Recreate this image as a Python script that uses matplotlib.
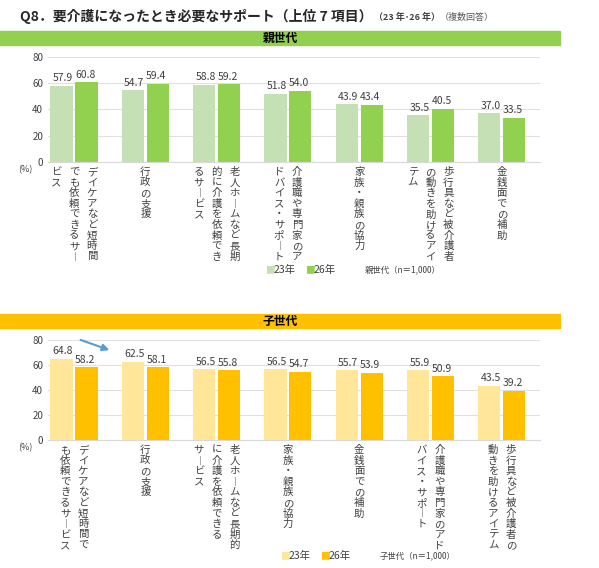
import matplotlib
matplotlib.use("Agg")
import matplotlib.pyplot as plt
from matplotlib.transforms import blended_transform_factory
import numpy as np

plt.rcParams['font.family'] = ['Noto Sans CJK JP', 'DejaVu Sans']

W, H = 599, 568

# 親世代
parent_cols = [
    ["デイケアなど短時間", "でも依頼できるサー", "ビス"],
    ["行政の支援"],
    ["老人ホームなど長期", "的に介護を依頼でき", "るサービス"],
    ["介護職や専門家のア", "ドバイス・サポート"],
    ["家族・親族の協力"],
    ["歩行具など被介護者", "の動きを助けるアイ", "テム"],
    ["金銭面での補助"],
]
parent_23 = [57.9, 54.7, 58.8, 51.8, 43.9, 35.5, 37.0]
parent_26 = [60.8, 59.4, 59.2, 54.0, 43.4, 40.5, 33.5]

# 子世代
child_cols = [
    ["デイケアなど短時間で", "も依頼できるサービス"],
    ["行政の支援"],
    ["老人ホームなど長期的", "に介護を依頼できる", "サービス"],
    ["家族・親族の協力"],
    ["金銭面での補助"],
    ["介護職や専門家のアド", "バイス・サポート"],
    ["歩行具など被介護者の", "動きを助けるアイテム"],
]
child_23 = [64.8, 62.5, 56.5, 56.5, 55.7, 55.9, 43.5]
child_26 = [58.2, 58.1, 55.8, 54.7, 53.9, 50.9, 39.2]

fig = plt.figure(figsize=(W / 100, H / 100), dpi=100)


def px_axes(x0, y0, x1, y1):
    return fig.add_axes([x0 / W, 1 - y1 / H, (x1 - x0) / W, (y1 - y0) / H])


def vtext(s):
    return "\n".join("︱" if c == "ー" else c for c in s)


def panel(y_top, y_bot, cols, v23, v26, c23, c26, leg_y, leg_x, leg_label):
    ax = px_axes(48, y_top, 540, y_bot)
    x = np.arange(len(v23))
    w = 0.31
    ax.bar(x - w / 2 - 0.02, v23, w, color=c23, zorder=2)
    ax.bar(x + w / 2 + 0.02, v26, w, color=c26, zorder=2)
    for xi, a, b in zip(x, v23, v26):
        ax.text(xi - w / 2, a + 2, f"{a:.1f}", ha="center", va="bottom", fontsize=7.5, color="#404040")
        ax.text(xi + w / 2, b + 2, f"{b:.1f}", ha="center", va="bottom", fontsize=7.5, color="#404040")
    ax.set_ylim(0, 80)
    ax.set_xlim(-0.365, 6.535)
    ax.set_yticks([0, 20, 40, 60, 80])
    ax.tick_params(axis="y", labelsize=7, colors="#404040", length=0)
    ax.set_xticks([])
    ax.grid(axis="y", color="#e0e0e0", lw=0.8, zorder=0)
    for s in ["top", "right", "left"]:
        ax.spines[s].set_visible(False)
    ax.spines["bottom"].set_color("#d9d9d9")
    tr = blended_transform_factory(ax.transData, fig.transFigure)
    for xi, cl in zip(x, cols):
        n = len(cl)
        for j, col in enumerate(cl):
            fig.text(xi + ((n - 1) / 2 - j) * 0.25, 1 - (y_bot + 5) / H, vtext(col), transform=tr,
                     ha="center", va="top", fontsize=7.5, linespacing=1.07, color="#404040")
    fig.text(18 / W, 1 - (y_bot + 10) / H, "(%)", fontsize=6.5, color="#404040")
    fig.text(leg_x / W, 1 - leg_y / H, "■", color=c23, fontsize=7, va="center")
    fig.text((leg_x + 9) / W, 1 - leg_y / H, "23年", color="#404040", fontsize=7.5, va="center")
    fig.text((leg_x + 40) / W, 1 - leg_y / H, "■", color=c26, fontsize=7, va="center")
    fig.text((leg_x + 49) / W, 1 - leg_y / H, "26年", color="#404040", fontsize=7.5, va="center")
    fig.text((leg_x + 100) / W, 1 - leg_y / H, leg_label, color="#404040", fontsize=6, va="center")
    return ax


# title
fig.text(20 / W, 1 - 16 / H, "Q8．要介護になったとき必要なサポート（上位 7 項目）",
         fontsize=10, fontweight="bold", color="#262626", va="center")
fig.text(374 / W, 1 - 17 / H, "（23 年･26 年）", fontsize=6.5, fontweight="bold", color="#404040", va="center")
fig.text(440 / W, 1 - 17 / H, "（複数回答）", fontsize=6.5, color="#595959", va="center")

# bands
fig.patches.append(plt.Rectangle((0, 1 - 45 / H), 560 / W, 14 / H, transform=fig.transFigure,
                                 color="#92d050", zorder=0))
fig.text(280 / W, 1 - 38 / H, "親世代", fontsize=8.5, fontweight="bold", ha="center", va="center")
fig.patches.append(plt.Rectangle((0, 1 - 328 / H), 560 / W, 14 / H, transform=fig.transFigure,
                                 color="#ffc000", zorder=0))
fig.text(280 / W, 1 - 321 / H, "子世代", fontsize=8.5, fontweight="bold", ha="center", va="center")

panel(57, 162, parent_cols, parent_23, parent_26, "#c5e0b4", "#92d050", 270, 265, "親世代（n＝1,000）")
panel(340, 440, child_cols, child_23, child_26, "#ffe699", "#ffc000", 556, 280, "子世代（n＝1,000）")

fig.patches.append(matplotlib.patches.FancyArrowPatch((78 / W, 1 - 339 / H), (112 / W, 1 - 351 / H),
                   transform=fig.transFigure, arrowstyle="-|>", mutation_scale=10,
                   color="#5b9bd5", lw=1.5))

fig.savefig("out.png", dpi=100)
